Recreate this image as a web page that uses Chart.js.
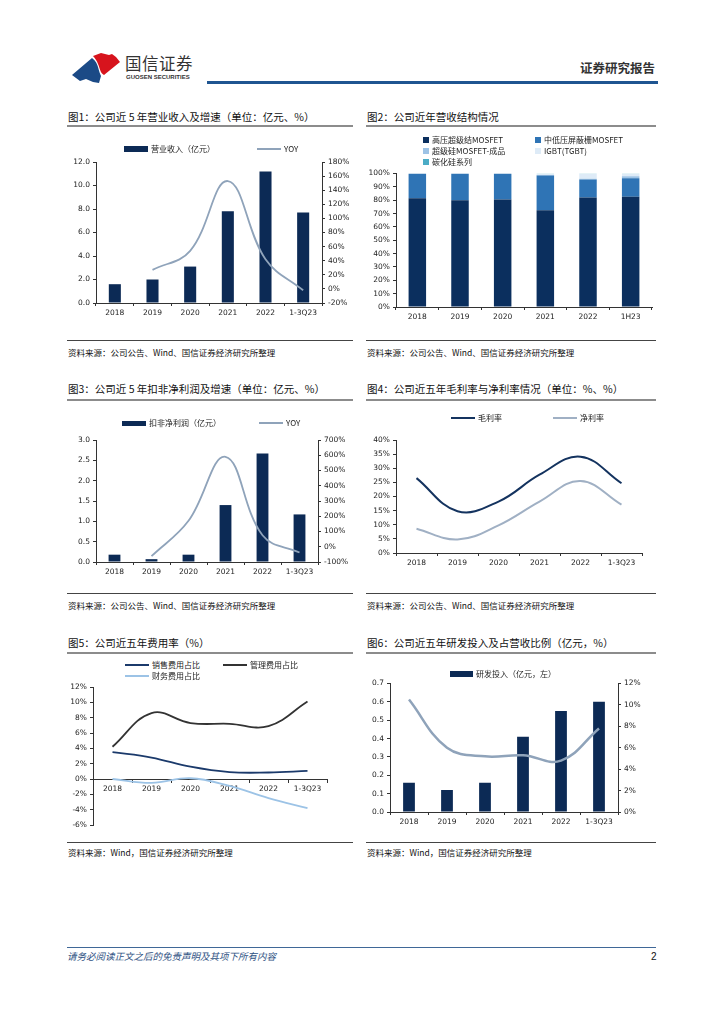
<!DOCTYPE html>
<html>
<head>
<meta charset="utf-8">
<script src="https://cdn.jsdelivr.net/npm/chart.js@4.4.0/dist/chart.umd.min.js"></script>
<style>
    body { margin: 0; width: 724px; height: 1024px; background: #fff; position: relative; overflow: hidden; font-family: "Noto Sans CJK SC", sans-serif; color: #222; }
    .abs { position: absolute; }
    .t { position: absolute; font-size: 10.5px; line-height: 14px; white-space: nowrap; color: #111; }
    .src { position: absolute; font-size: 8.5px; line-height: 12px; white-space: nowrap; color: #111; }
    .rule { position: absolute; height: 2px; background: #8c8c8c; }
    .srule { position: absolute; height: 1px; background: #444; }
    canvas { position: absolute; }
    .lg { position: absolute; display: flex; align-items: center; font-size: 8px; line-height: 12px; white-space: nowrap; color: #222; }
    .lg span.m { display: inline-block; margin-right: 3px; }
</style>
</head>
<body>

<!-- header -->
<svg class="abs" style="left:0;top:0" width="724" height="100">
    <path d="M93,56 L101,53 L109,55 L112,54 L116,57 L120,62 L104,75 C100,73 100,68 98,64 C97,61 95,58 93,56 Z" fill="#d7141d"/>
    <path d="M72,75 L92,58 C96,61 97,64 98,67 C99,71 100,74 101,76 L99,83 L93,82 L86,79 L80,81 Z" fill="#1b4a86"/>
</svg>
<div class="abs" style="left:125px;top:53px;font-size:16.5px;line-height:20px;color:#333;letter-spacing:0.5px">国信证券</div>
<div class="abs" style="left:126px;top:74px;font-family:'Liberation Sans',sans-serif;font-weight:bold;font-size:6px;line-height:7px;color:#333">GUOSEN SECURITIES</div>
<div class="abs" style="left:580px;top:60px;font-size:12.5px;line-height:16px;font-weight:bold;color:#333">证券研究报告</div>
<div class="abs" style="left:207px;top:81px;width:451px;height:3px;background:#1f5591"></div>

<!-- row 1 -->
<div class="t" style="left:68px;top:110px">图1：公司近 5 年营业收入及增速（单位：亿元、%）</div>
<div class="rule" style="left:67px;top:125px;width:286px"></div>
<canvas id="c1" width="286" height="175" style="left:67px;top:150px"></canvas>
<div class="srule" style="left:67px;top:340px;width:286px"></div>
<div class="src" style="left:68px;top:346px">资料来源：公司公告、Wind、国信证券经济研究所整理</div>

<div class="t" style="left:367px;top:110px">图2：公司近年营收结构情况</div>
<div class="rule" style="left:366px;top:125px;width:290px"></div>
<canvas id="c2" width="290" height="160" style="left:366px;top:166px"></canvas>
<div class="srule" style="left:366px;top:340px;width:290px"></div>
<div class="src" style="left:367px;top:346px">资料来源：公司公告、Wind、国信证券经济研究所整理</div>

<!-- row 2 -->
<div class="t" style="left:68px;top:382px">图3：公司近 5 年扣非净利润及增速（单位：亿元、%）</div>
<div class="rule" style="left:67px;top:399px;width:286px"></div>
<canvas id="c3" width="286" height="160" style="left:67px;top:428px"></canvas>
<div class="srule" style="left:67px;top:593px;width:286px"></div>
<div class="src" style="left:68px;top:599px">资料来源：公司公告、Wind、国信证券经济研究所整理</div>

<div class="t" style="left:367px;top:382px">图4：公司近五年毛利率与净利率情况（单位：%、%）</div>
<div class="rule" style="left:366px;top:399px;width:290px"></div>
<canvas id="c4" width="290" height="150" style="left:366px;top:428px"></canvas>
<div class="srule" style="left:366px;top:593px;width:290px"></div>
<div class="src" style="left:367px;top:599px">资料来源：公司公告、Wind、国信证券经济研究所整理</div>

<!-- row 3 -->
<div class="t" style="left:68px;top:636px">图5：公司近五年费用率（%）</div>
<div class="rule" style="left:67px;top:652px;width:286px"></div>
<canvas id="c5" width="286" height="155" style="left:67px;top:678px"></canvas>
<div class="srule" style="left:67px;top:842px;width:286px"></div>
<div class="src" style="left:68px;top:846px">资料来源：Wind，国信证券经济研究所整理</div>

<div class="t" style="left:367px;top:636px">图6：公司近五年研发投入及占营收比例（亿元，%）</div>
<div class="rule" style="left:366px;top:652px;width:290px"></div>
<canvas id="c6" width="290" height="155" style="left:366px;top:676px"></canvas>
<div class="srule" style="left:366px;top:842px;width:290px"></div>
<div class="src" style="left:367px;top:846px">资料来源：Wind，国信证券经济研究所整理</div>

<!-- footer -->
<div class="abs" style="left:67px;top:947px;width:589px;height:1px;background:#3f6797"></div>
<div class="abs" style="left:67px;top:950px;font-size:9.5px;line-height:13px;font-style:italic;color:#2f5283">请务必阅读正文之后的免责声明及其项下所有内容</div>
<div class="abs" style="left:651px;top:950px;font-family:'Liberation Sans',sans-serif;font-size:10px;line-height:13px;color:#111">2</div>

<script>
const years = ["2018", "2019", "2020", "2021", "2022", "1-3Q23"];
const halfYears = ["2018", "2019", "2020", "2021", "2022", "1H23"];

// fig 1
const revenue = [1.6, 2.0, 3.1, 7.8, 11.2, 7.7];
const revenueYoy = [null, 27, 54, 153, 42, -2];

// fig 2 (share, %)
const mixHighVolt = [81.5, 80.0, 80.5, 72.5, 82.0, 82.5];
const mixLowVolt = [18.5, 20.0, 19.5, 26.0, 13.5, 14.0];
const mixSuperSi = [0, 0, 0, 0.3, 0.5, 1.5];
const mixIgbt = [0, 0, 0, 1.0, 3.8, 1.8];
const mixSic = [0, 0, 0, 0.2, 0.2, 0.2];

// fig 3
const profit = [0.18, 0.07, 0.18, 1.40, 2.67, 1.17];
const profitYoy = [null, -62, 170, 590, 75, -38];

// fig 4
const grossMargin = [26.5, 14.8, 18.2, 27.7, 34.1, 24.7];
const netMargin = [8.6, 4.8, 9.8, 18.2, 25.5, 17.1];

// fig 5
const sellRate = [3.5, 2.8, 1.6, 0.9, 0.85, 1.05];
const adminRate = [4.2, 8.6, 7.3, 7.2, 6.9, 10.1];
const financeRate = [0, -0.5, 0.1, -0.9, -2.5, -3.8];

// fig 6
const rdSpend = [0.16, 0.12, 0.16, 0.41, 0.55, 0.60];
const rdRatio = [10.5, 6.0, 5.2, 5.3, 4.8, 7.8];

const ink = "#333",
    navy = "#0c2a55",
    greyBlue = "#8fa3ba";

Chart.defaults.font.family = "'DejaVu Sans', sans-serif";
Chart.defaults.font.size = 7.5;
Chart.defaults.color = "#222";
Chart.defaults.animation = false;
Chart.defaults.responsive = false;
Chart.defaults.plugins.legend.display = false;
Chart.defaults.plugins.tooltip.enabled = false;

const pct = v => v + "%";
const fixed = n => v => v.toFixed(n);

function yAxis(pos, min, max, step, fmt, width) {
    return {
        position: pos,
        min: min,
        max: max,
        ticks: { stepSize: step, callback: fmt, padding: 3, autoSkip: false },
        grid: { drawOnChartArea: false, tickLength: 3, color: ink },
        border: { color: ink },
        afterFit: s => { s.width = width; },
    };
}

function xAxis(height, extra) {
    return Object.assign({
        offset: true,
        ticks: { padding: 3, autoSkip: false, maxRotation: 0 },
        grid: { offset: true, drawOnChartArea: false, tickLength: 3, color: ink },
        border: { color: ink },
        afterFit: s => { s.height = height; },
    }, extra || {});
}

function bars(label, data, color, pct) {
    return {
        type: "bar",
        order: 2,
        label: label,
        data: data,
        backgroundColor: color,
        barPercentage: pct,
        categoryPercentage: 1,
    };
}

function line(label, data, color, width, axis) {
    return {
        type: "line",
        order: 1,
        label: label,
        data: data,
        borderColor: color,
        backgroundColor: color,
        borderWidth: width,
        pointRadius: 0,
        tension: 0.4,
        yAxisID: axis || "y",
    };
}

// html legend from the chart's own datasets
function legend(chart, spots, mark) {
    chart.data.datasets.forEach((ds, i) => {
        if (!spots[i]) return;
        const item = document.createElement("div"),
            m = document.createElement("span"),
            txt = document.createElement("span");
        item.className = "lg";
        item.style.left = spots[i][0] + "px";
        item.style.top = (spots[i][1] - 6) + "px";
        m.className = "m";
        if (ds.type === "line") {
            m.style.width = "24px";
            m.style.height = "2px";
            m.style.background = ds.borderColor;
        } else {
            m.style.width = mark[0] + "px";
            m.style.height = mark[1] + "px";
            m.style.background = ds.backgroundColor;
        }
        txt.textContent = ds.label;
        item.append(m, txt);
        document.body.appendChild(item);
    });
}

const c1 = new Chart(document.getElementById("c1"), {
    data: {
        labels: years,
        datasets: [
            bars("营业收入（亿元）", revenue, navy, 0.32),
            line("YOY", revenueYoy, greyBlue, 1.8, "y1"),
        ]
    },
    options: {
        layout: { padding: { top: 12 } },
        scales: {
            x: xAxis(22),
            y: yAxis("left", 0, 12, 2, fixed(1), 29),
            y1: yAxis("right", -20, 180, 20, pct, 31),
        }
    }
});
legend(c1, [[124, 149], [257, 149]], [24, 6]);

const c2 = new Chart(document.getElementById("c2"), {
    type: "bar",
    data: {
        labels: halfYears,
        datasets: [
            bars("高压超级结MOSFET", mixHighVolt, "#0b2f5e", 0.41),
            bars("中低压屏蔽栅MOSFET", mixLowVolt, "#2f74b5", 0.41),
            bars("超级硅MOSFET-成品", mixSuperSi, "#9dc3e6", 0.41),
            bars("IGBT(TGBT)", mixIgbt, "#deebf7", 0.41),
            bars("碳化硅系列", mixSic, "#4bacc6", 0.41),
        ]
    },
    options: {
        layout: { padding: { top: 7, right: 4 } },
        scales: {
            x: xAxis(19, { stacked: true }),
            y: Object.assign(yAxis("left", 0, 100, 10, pct, 30), { stacked: true }),
        }
    }
});
legend(c2, [[423, 140], [535, 140], [423, 151], [535, 151], [423, 162]], [6, 6]);

const c3 = new Chart(document.getElementById("c3"), {
    data: {
        labels: years,
        datasets: [
            bars("扣非净利润（亿元）", profit, navy, 0.32),
            line("YOY", profitYoy, greyBlue, 1.8, "y1"),
        ]
    },
    options: {
        layout: { padding: { top: 12 } },
        scales: {
            x: xAxis(26),
            y: yAxis("left", 0, 3, 0.5, fixed(1), 29),
            y1: yAxis("right", -100, 700, 100, pct, 35),
        }
    }
});
legend(c3, [[122, 423], [259, 423]], [24, 5]);

const c4 = new Chart(document.getElementById("c4"), {
    type: "line",
    data: {
        labels: years,
        datasets: [
            line("毛利率", grossMargin, "#14335f", 2),
            line("净利率", netMargin, "#a0b0c4", 2),
        ]
    },
    options: {
        layout: { padding: { top: 12, right: 14 } },
        scales: {
            x: xAxis(25),
            y: yAxis("left", 0, 40, 5, pct, 30),
        }
    }
});
legend(c4, [[451, 418], [553, 418]]);

const c5 = new Chart(document.getElementById("c5"), {
    type: "line",
    data: {
        labels: years,
        datasets: [
            line("销售费用占比", sellRate, "#1b3a6b", 1.8),
            line("管理费用占比", adminRate, "#333333", 1.8),
            line("财务费用占比", financeRate, "#9cc3e6", 1.8),
        ]
    },
    options: {
        layout: { padding: { top: 9, right: 26, bottom: 8 } },
        scales: {
            x: Object.assign(xAxis(20), { position: { y: 0 } }),
            y: yAxis("left", -6, 12, 2, pct, 26),
        }
    }
});
legend(c5, [[125, 665], [223, 665], [125, 676]]);

const c6 = new Chart(document.getElementById("c6"), {
    data: {
        labels: years,
        datasets: [
            bars("研发投入（亿元，左）", rdSpend, navy, 0.31),
            line("占营收比例", rdRatio, greyBlue, 2.5, "y1"),
        ]
    },
    options: {
        layout: { padding: { top: 7 } },
        scales: {
            x: xAxis(19),
            y: yAxis("left", 0, 0.7, 0.1, fixed(1), 24),
            y1: yAxis("right", 0, 12, 2, pct, 38),
        }
    }
});
legend(c6, [[450, 674]], [23, 6]);
</script>
</body>
</html>
